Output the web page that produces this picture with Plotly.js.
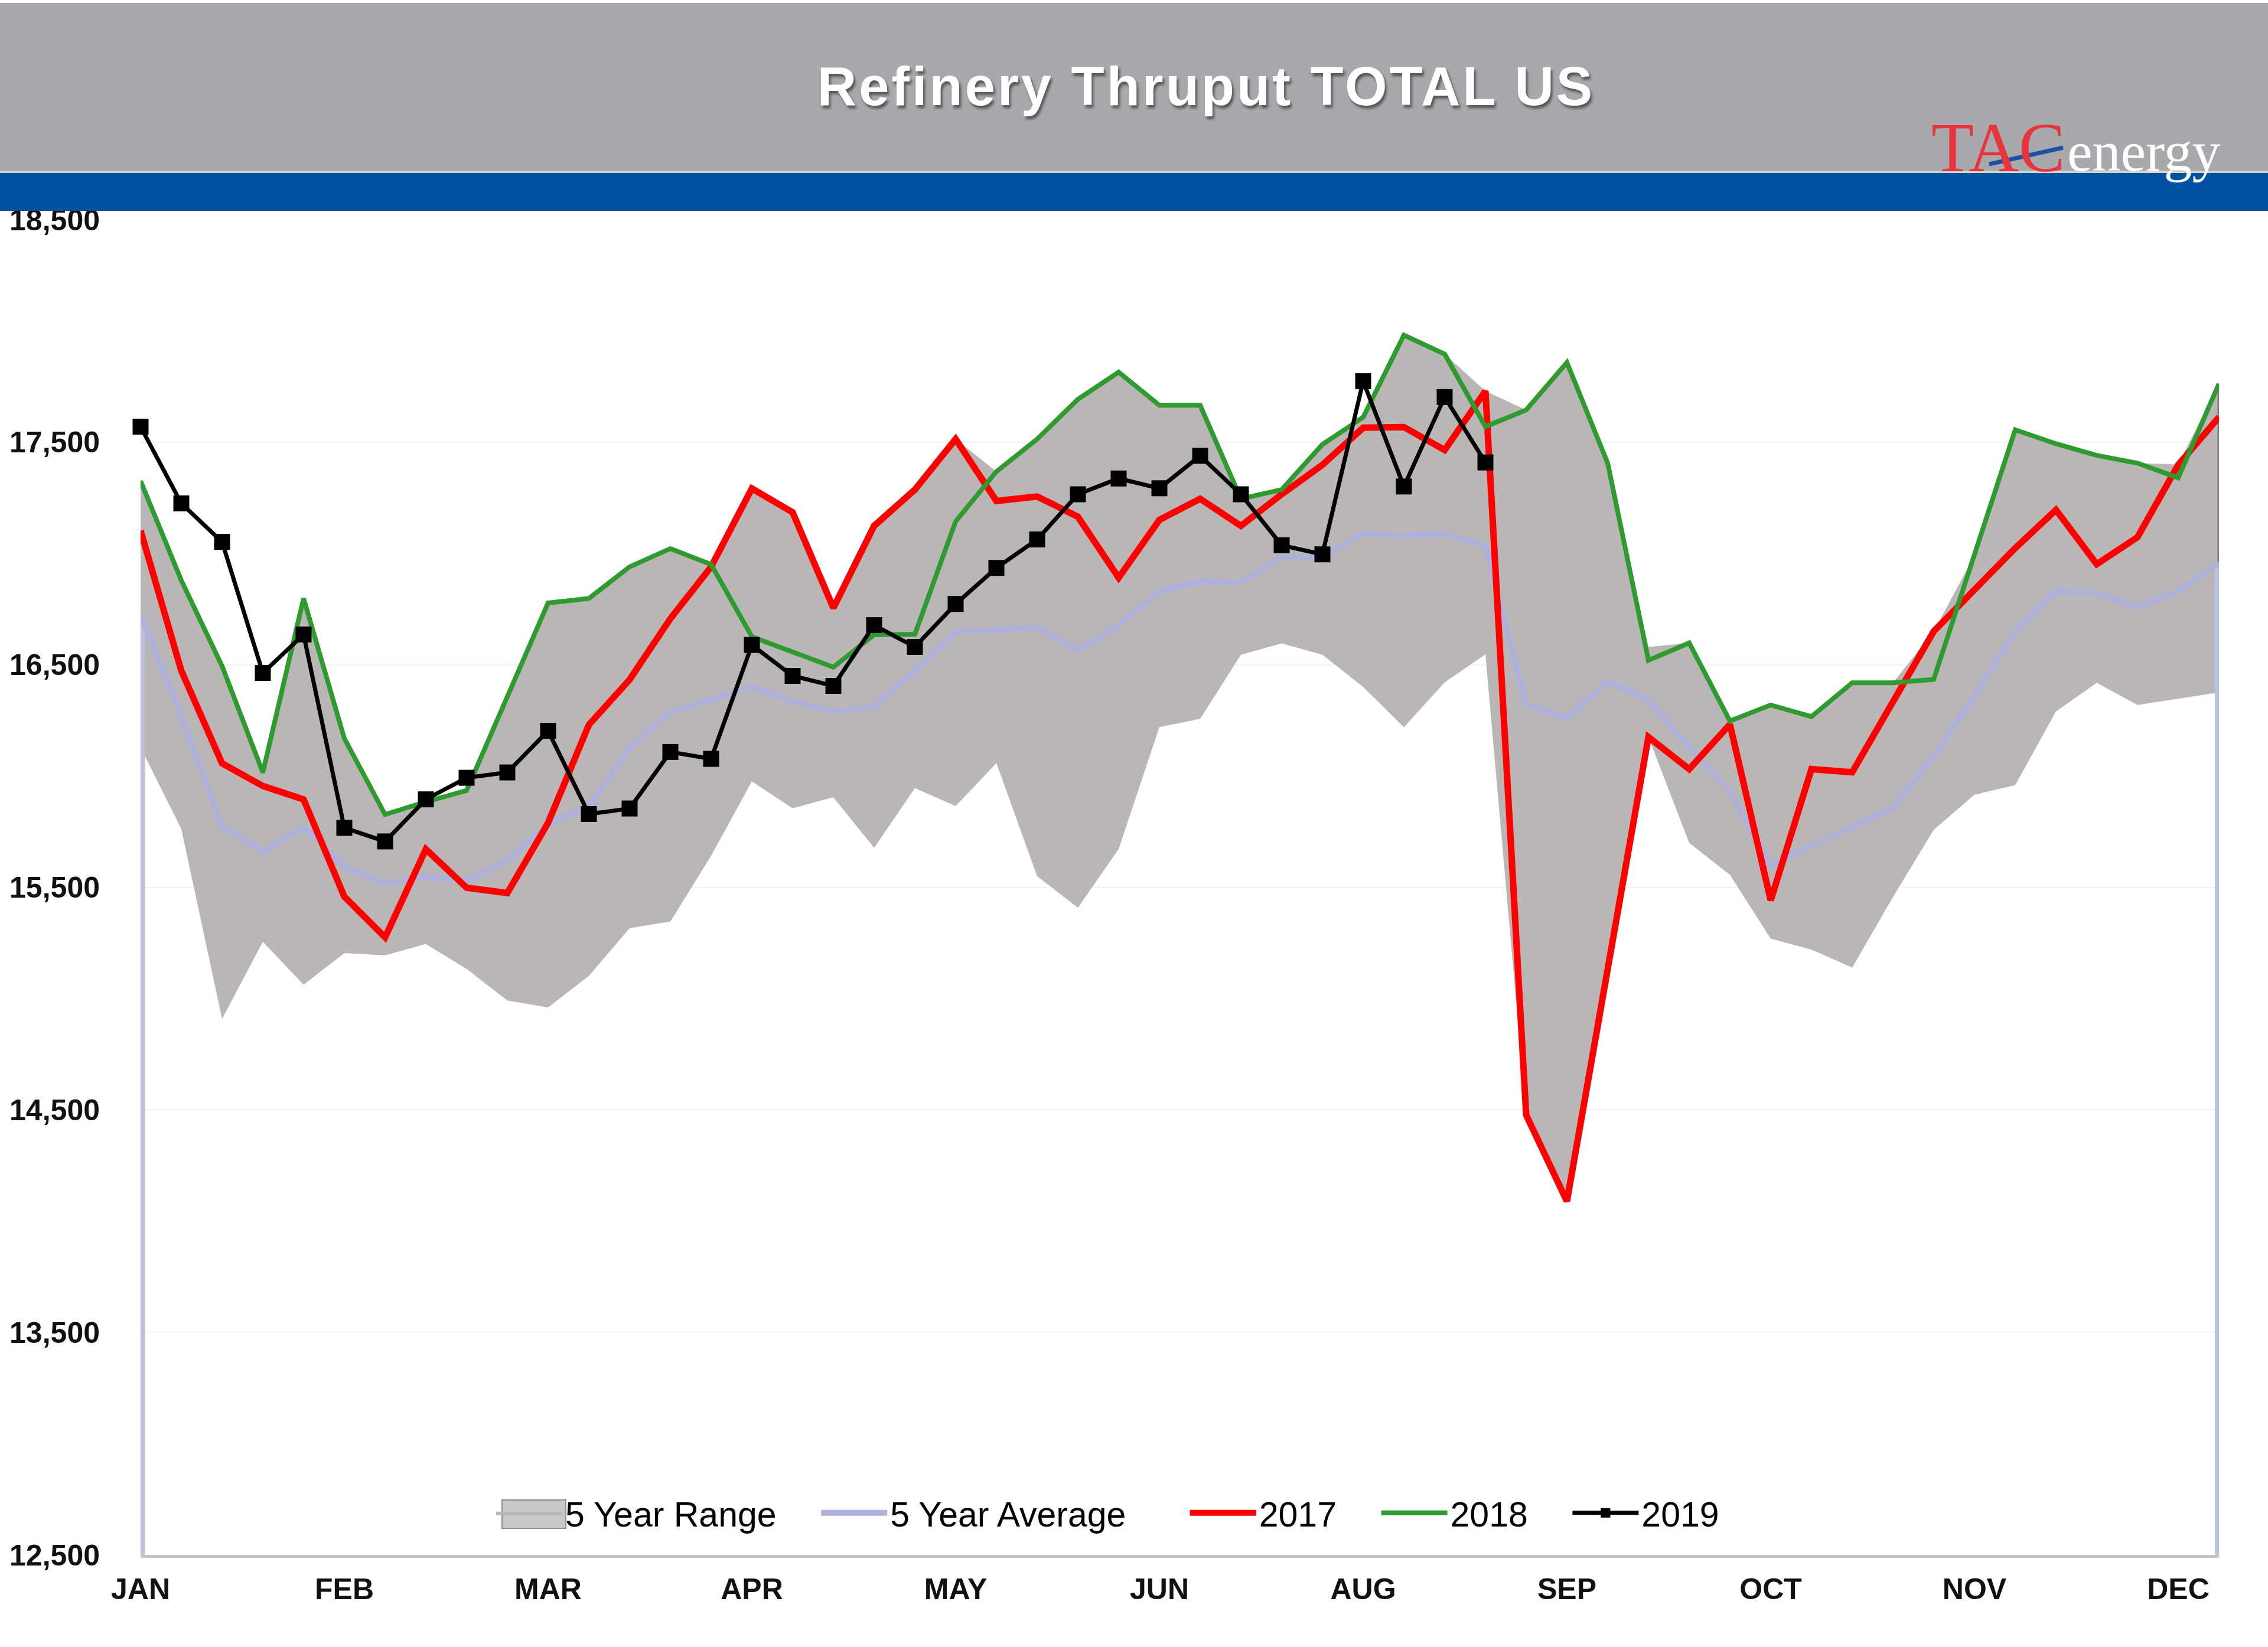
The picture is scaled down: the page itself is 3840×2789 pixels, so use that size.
<!DOCTYPE html>
<html>
<head>
<meta charset="utf-8">
<script src="https://cdn.plot.ly/plotly-3.0.1.min.js"></script>
<style>
  html, body { margin: 0; padding: 0; background: #ffffff; }
  #chart { width: 3840px; height: 2789px; }
</style>
</head>
<body>
<div id="chart"></div>
<script>
// ---------------- DATA ----------------
const weeks = [1,2,3,4,5,6,7,8,9,10,11,12,13,14,15,16,17,18,19,20,21,22,23,24,25,26,
               27,28,29,30,31,32,33,34,35,36,37,38,39,40,41,42,43,44,45,46,47,48,49,50,51,52];
const monthTickWeeks = [1, 6, 11, 16, 21, 26, 31, 36, 41, 46, 51];
const monthLabels = ['JAN','FEB','MAR','APR','MAY','JUN','AUG','SEP','OCT','NOV','DEC'];
const yTicks = [12500, 13500, 14500, 15500, 16500, 17500, 18500];
const seriesNames = ['5 Year Range', '5 Year Average', '2017', '2018', '2019'];

const rangeLow = [16128,15762,14909,15255,15062,15204,15194,15245,15133,14991,14960,15102,15316,15346,15641,15976,
                  15855,15905,15677,15946,15865,16058,15550,15408,15672,16220,16257,16545,16596,16545,16400,16219,
                  16421,16547,14477,14089,15132,16175,15700,15556,15269,15220,15139,15456,15758,15916,15959,16290,
                  16419,16319,16347,16376];
const rangeHigh = [17326,16879,16494,16016,16798,16169,15827,15884,15935,16362,16778,16798,16940,17022,16951,17292,
                   17185,16780,17124,17287,17514,17368,17514,17693,17815,17666,17666,17246,17287,17490,17612,17981,
                   17896,17730,17645,17858,17406,16580,16598,16260,16319,16267,16419,16419,16650,16990,17556,17493,
                   17441,17406,17400,17763];
const avg5 = [16727,16270,15773,15660,15773,15590,15519,15549,15529,15620,15783,15864,16128,16291,16341,16402,
              16335,16291,16310,16474,16647,16657,16667,16566,16677,16830,16874,16870,16982,16986,17090,17080,
              17089,17033,16322,16261,16425,16342,16130,15930,15599,15686,15772,15858,16089,16362,16650,16831,
              16822,16759,16831,16957];
const y2017 = [17103,16473,16057,15955,15895,15458,15275,15671,15498,15474,15790,16230,16433,16707,16940,17292,
               17185,16755,17124,17287,17514,17236,17256,17165,16891,17151,17246,17124,17266,17398,17565,17568,
               17465,17730,14477,14089,15132,16175,16031,16232,15441,16031,16017,16333,16650,16837,17024,17196,
               16952,17073,17398,17613];
const y2018 = [17326,16879,16494,16016,16798,16169,15827,15884,15935,16362,16778,16798,16940,17022,16951,16626,
               16555,16489,16635,16637,17144,17368,17514,17693,17815,17666,17666,17246,17287,17490,17612,17981,
               17896,17570,17645,17858,17406,16520,16598,16247,16319,16267,16419,16419,16434,16990,17556,17493,
               17441,17406,17340,17763];
const y2019 = [17570,17225,17052,16463,16636,15767,15706,15895,15992,16016,16203,15829,15854,16108,16077,16589,
               16450,16405,16678,16580,16773,16935,17063,17266,17337,17293,17439,17266,17037,16996,17774,17301,
               17703,17409];

// ---------------- LAYOUT HELPERS (pixel -> paper) ----------------
const W = 3840, H = 2789;
const PL = 238, PR = 3757, PT = 372, PB = 2633;
const xp = px => (px - PL) / (PR - PL);
const yp = py => (PB - py) / (PB - PT);

const first = weeks[0], last = weeks[weeks.length - 1];
const n = weeks.length;
const pad = k => '\u00A0'.repeat(k);

const traces = [
  { x: weeks, y: rangeLow, type: 'scatter', mode: 'lines', line: { width: 0, color: 'rgba(0,0,0,0)' },
    showlegend: false, hoverinfo: 'skip' },
  { x: weeks, y: rangeHigh, type: 'scatter', mode: 'lines', name: seriesNames[0] + pad(4), fill: 'tonexty',
    fillcolor: '#bab6b5', line: { width: 0, color: '#bab6b5' } },
  { x: [last, last], y: [rangeLow[n - 1], rangeHigh[n - 1]], type: 'scatter', mode: 'lines',
    line: { width: 5, color: 'rgba(110,108,108,0.8)' }, showlegend: false, hoverinfo: 'skip' },
  { x: [first, first, null, last, last], y: [yTicks[0], avg5[0], null, yTicks[0], avg5[n - 1]],
    type: 'scatter', mode: 'lines', line: { width: 14, color: 'rgb(188,191,228)' },
    showlegend: false, hoverinfo: 'skip', cliponaxis: false },
  { x: weeks, y: avg5, type: 'scatter', mode: 'lines', name: seriesNames[1] + pad(6),
    line: { width: 10, color: 'rgb(174,178,219)' } },
  { x: weeks, y: y2017, type: 'scatter', mode: 'lines', name: seriesNames[2] + pad(4),
    line: { width: 11, color: '#ff0000' } },
  { x: weeks, y: y2018, type: 'scatter', mode: 'lines', name: seriesNames[3] + pad(4),
    line: { width: 8, color: '#2f9a2f' } },
  { x: weeks.slice(0, y2019.length), y: y2019, type: 'scatter', mode: 'lines+markers', name: seriesNames[4],
    line: { width: 7, color: '#000000' }, marker: { symbol: 'square', size: 27, color: '#000000' },
    cliponaxis: false }
];

const tickFont = { family: 'Liberation Sans, Arial, sans-serif', size: 50, color: '#111111', weight: 'bold' };

const layout = {
  width: W, height: H,
  margin: { l: PL, r: W - PR, t: PT, b: H - PB, pad: 0 },
  paper_bgcolor: '#ffffff', plot_bgcolor: '#ffffff',
  showlegend: true,
  title: {
    text: '<span style="letter-spacing:4px">Refinery Thruput TOTAL US</span>',
    font: { family: 'Liberation Sans, Arial, sans-serif', size: 92, color: '#ffffff', weight: 'bold',
            shadow: '3px 5px 4px rgba(70,70,70,0.85)' },
    x: 2042 / W, xref: 'container', xanchor: 'center',
    y: 1 - 146 / H, yref: 'container', yanchor: 'middle'
  },
  xaxis: {
    range: [first, last], tickvals: monthTickWeeks, ticktext: monthLabels,
    showgrid: false, zeroline: false, showline: true, linecolor: '#c6c6c6', linewidth: 5,
    ticks: '', tickfont: tickFont, ticklabelstandoff: 10, fixedrange: true
  },
  yaxis: {
    range: [yTicks[0], yTicks[yTicks.length - 1]], tickvals: yTicks, tickformat: ',d',
    showgrid: true, gridcolor: '#f2f2f2', gridwidth: 2, zeroline: false, showline: false,
    ticks: '', tickfont: tickFont, ticklabelstandoff: 68, fixedrange: true
  },
  legend: {
    orientation: 'h', x: xp(835), xanchor: 'left', y: yp(2562), yanchor: 'middle',
    font: { family: 'Liberation Sans, Arial, sans-serif', size: 59, color: '#000000' },
    bgcolor: 'rgba(0,0,0,0)', traceorder: 'normal', itemwidth: 112
  },
  shapes: [
    { type: 'rect', xref: 'paper', yref: 'paper', x0: xp(0), x1: xp(W), y0: yp(289), y1: yp(5),
      fillcolor: '#a7a9ac', line: { width: 0 }, layer: 'above' },
    { type: 'rect', xref: 'paper', yref: 'paper', x0: xp(0), x1: xp(W), y0: yp(293), y1: yp(289),
      fillcolor: '#d8d4cc', line: { width: 0 }, layer: 'above' },
    { type: 'rect', xref: 'paper', yref: 'paper', x0: xp(0), x1: xp(W), y0: yp(357), y1: yp(293),
      fillcolor: '#0053a4', line: { width: 0 }, layer: 'above' },
    { type: 'line', xref: 'paper', yref: 'paper', x0: xp(3368), y0: yp(278), x1: xp(3493), y1: yp(250),
      line: { color: '#1f4fa0', width: 7 }, layer: 'above' },
    // legend swatch box for the range (decoration, sits over the legend fill symbol)
    { type: 'rect', xref: 'paper', yref: 'paper', x0: xp(850), x1: xp(958), y0: yp(2588), y1: yp(2540),
      fillcolor: '#c9c7c7', line: { color: '#8f8f8f', width: 2 }, layer: 'above' }
  ],
  annotations: [
    { text: 'TAC', xref: 'paper', yref: 'paper', x: xp(3268), y: yp(318), xanchor: 'left', yanchor: 'bottom',
      showarrow: false, font: { family: 'Liberation Serif, Times New Roman, serif', size: 118, color: '#e8343b' } },
    { text: 'energy', xref: 'paper', yref: 'paper', x: xp(3498), y: yp(312), xanchor: 'left', yanchor: 'bottom',
      showarrow: false, font: { family: 'Liberation Serif, Times New Roman, serif', size: 96, color: '#ffffff' } }
  ]
};

Plotly.newPlot('chart', traces, layout, { displayModeBar: false, staticPlot: true });
</script>
</body>
</html>
